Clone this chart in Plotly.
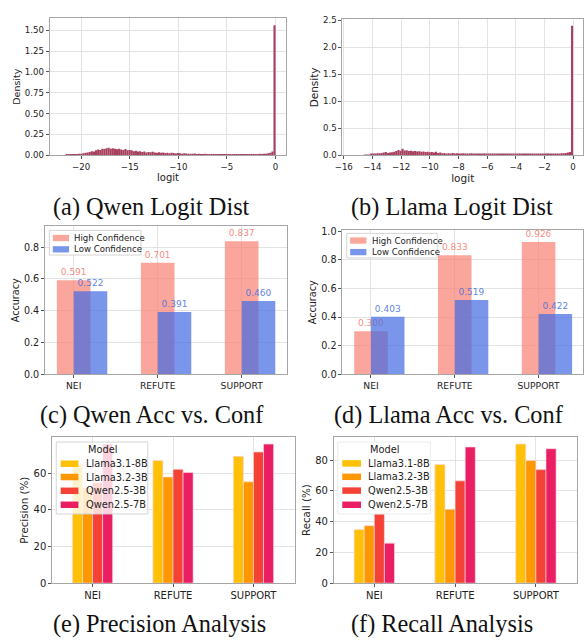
import plotly.graph_objects as go

# ---------------- data ----------------
# (a) Qwen logit histogram: 100 bins from -21.6 to 0
qwen_bin_start = -21.6
qwen_bin_width = 0.216
qwen_density = [
    0.005, 0.008, 0.005, 0.010, 0.012,
    0.015, 0.020, 0.018, 0.025, 0.030,
    0.035, 0.040, 0.050, 0.045, 0.060,
    0.070, 0.065, 0.080, 0.075, 0.085,
    0.090, 0.080, 0.085, 0.078, 0.072,
    0.080, 0.070, 0.065, 0.075, 0.060,
    0.065, 0.060, 0.050, 0.055, 0.045,
    0.050, 0.040, 0.045, 0.035, 0.040,
    0.038, 0.042, 0.035, 0.030, 0.036,
    0.032, 0.035, 0.028, 0.030, 0.025,
    0.030, 0.028, 0.022, 0.027, 0.025,
    0.020, 0.025, 0.022, 0.018, 0.020,
    0.018, 0.022, 0.015, 0.020, 0.017,
    0.015, 0.020, 0.014, 0.016, 0.013,
    0.015, 0.012, 0.014, 0.016, 0.012,
    0.013, 0.010, 0.015, 0.012, 0.011,
    0.012, 0.014, 0.010, 0.013, 0.012,
    0.011, 0.013, 0.012, 0.014, 0.012,
    0.015, 0.016, 0.018, 0.017, 0.020,
    0.020, 0.025, 0.030, 0.045, 1.560,
]

# (b) Llama logit histogram: 100 bins from -14.6 to 0
llama_bin_start = -14.6
llama_bin_width = 0.146
llama_density = [
    0.003, 0.005, 0.010, 0.020, 0.030,
    0.035, 0.040, 0.038, 0.045, 0.050,
    0.060, 0.045, 0.050, 0.055, 0.065,
    0.080, 0.100, 0.085, 0.120, 0.090,
    0.095, 0.080, 0.085, 0.075, 0.080,
    0.070, 0.075, 0.065, 0.070, 0.060,
    0.065, 0.055, 0.060, 0.050, 0.065,
    0.045, 0.050, 0.040, 0.045, 0.035,
    0.040, 0.035, 0.045, 0.030, 0.040,
    0.035, 0.030, 0.040, 0.030, 0.035,
    0.030, 0.040, 0.028, 0.035, 0.030,
    0.025, 0.030, 0.035, 0.025, 0.030,
    0.028, 0.025, 0.032, 0.025, 0.030,
    0.025, 0.030, 0.022, 0.028, 0.025,
    0.030, 0.022, 0.025, 0.020, 0.025,
    0.022, 0.020, 0.025, 0.018, 0.022,
    0.020, 0.018, 0.022, 0.020, 0.018,
    0.025, 0.020, 0.018, 0.022, 0.020,
    0.025, 0.030, 0.028, 0.035, 0.040,
    0.040, 0.045, 0.050, 0.060, 2.400,
]

labels = ["NEI", "REFUTE", "SUPPORT"]

qwen_high = [0.591, 0.701, 0.837]
qwen_low = [0.522, 0.391, 0.460]
llama_high = [0.300, 0.833, 0.926]
llama_low = [0.403, 0.519, 0.422]
conf_names = ["High Confidence", "Low Confidence"]

models = ["Llama3.1-8B", "Llama3.2-3B", "Qwen2.5-3B", "Qwen2.5-7B"]
model_colors = ["#FFC107", "#FF9800", "#F44336", "#E91E63"]
precision = {
    "Llama3.1-8B": [65.0, 67.0, 69.3],
    "Llama3.2-3B": [52.0, 58.0, 55.4],
    "Qwen2.5-3B": [55.0, 62.2, 71.7],
    "Qwen2.5-7B": [76.0, 60.5, 76.0],
}
recall = {
    "Llama3.1-8B": [34.9, 77.2, 90.4],
    "Llama3.2-3B": [37.3, 48.0, 79.8],
    "Qwen2.5-3B": [45.0, 66.5, 73.8],
    "Qwen2.5-7B": [26.0, 88.5, 87.4],
}

# ---------------- figure ----------------
W, H = 584, 641
FONT = "DejaVu Sans"
HIST_COLOR = "#A93F5F"
HIGH_COLOR = "rgba(250,128,114,0.7)"
LOW_COLOR = "rgba(65,105,225,0.7)"

fig = go.Figure()
cat_pos = list(range(len(labels)))

# histograms
q_x = [qwen_bin_start + qwen_bin_width * (i + 0.5) for i in range(len(qwen_density))]
fig.add_trace(go.Bar(x=q_x, y=qwen_density, width=qwen_bin_width,
                     marker=dict(color=HIST_COLOR, line=dict(width=0)),
                     xaxis="x", yaxis="y", showlegend=False))
l_x = [llama_bin_start + llama_bin_width * (i + 0.5) for i in range(len(llama_density))]
fig.add_trace(go.Bar(x=l_x, y=llama_density, width=llama_bin_width,
                     marker=dict(color=HIST_COLOR, line=dict(width=0)),
                     xaxis="x2", yaxis="y2", showlegend=False))


def acc_panel(high, low, xa, ya):
    fig.add_trace(go.Bar(x=cat_pos, y=high, width=0.4, offset=-0.2, name=conf_names[0],
                         marker=dict(color=HIGH_COLOR, line=dict(width=0)),
                         text=[f"{v:.3f}" for v in high], textposition="outside", cliponaxis=False,
                         constraintext="none",
                         textfont=dict(family=FONT, size=9, color="rgba(245,130,118,0.95)"),
                         xaxis=xa, yaxis=ya, showlegend=False))
    fig.add_trace(go.Bar(x=cat_pos, y=low, width=0.4, offset=0.0, name=conf_names[1],
                         marker=dict(color=LOW_COLOR, line=dict(width=0)),
                         text=[f"{v:.3f}" for v in low], textposition="outside", cliponaxis=False,
                         constraintext="none",
                         textfont=dict(family=FONT, size=9, color="rgba(65,105,225,0.85)"),
                         xaxis=xa, yaxis=ya, showlegend=False))


acc_panel(qwen_high, qwen_low, "x3", "y3")
acc_panel(llama_high, llama_low, "x4", "y4")


def model_panel(data, xa, ya):
    for k, m in enumerate(models):
        fig.add_trace(go.Bar(x=cat_pos, y=data[m], width=0.125, offset=-0.25 + 0.125 * k, name=m,
                             marker=dict(color=model_colors[k],
                                         line=dict(color="rgba(255,215,225,0.8)", width=0.8)),
                             xaxis=xa, yaxis=ya, showlegend=False))


model_panel(precision, "x5", "y5")
model_panel(recall, "x6", "y6")


def px_x(a, b):
    return [a / W, b / W]


def px_y(top, bottom):
    return [1 - bottom / H, 1 - top / H]


axis_common = dict(showline=True, mirror=True, linecolor="#a6a6a6", linewidth=1,
                   showgrid=True, gridcolor="#e3e3e3", gridwidth=1, zeroline=False,
                   ticks="outside", ticklen=3, tickcolor="#555",
                   tickfont=dict(family=FONT, size=8.6, color="#222"))


def title(t, s):
    return dict(text=t, font=dict(family=FONT, size=s, color="#222"), standoff=2)


layout = dict(
    width=W, height=H, margin=dict(l=0, r=0, t=0, b=0),
    paper_bgcolor="white", plot_bgcolor="white", barmode="overlay",
    font=dict(family=FONT, color="#222"), showlegend=False,
)

layout["xaxis"] = dict(axis_common, domain=px_x(42.3, 282.7), range=[-23.24, 1.11], anchor="y",
                       tickvals=[-20, -15, -10, -5, 0], title=title("logit", 10))
layout["yaxis"] = dict(axis_common, domain=px_y(13.3, 152.7), range=[0, 1.646], anchor="x",
                       tickvals=[0, 0.25, 0.5, 0.75, 1.0, 1.25, 1.5], tickformat=".2f",
                       title=title("Density", 9.5))
layout["xaxis2"] = dict(axis_common, domain=px_x(339.7, 584), range=[-16.09, 0.69], anchor="y2",
                        tickvals=[-16, -14, -12, -10, -8, -6, -4, -2, 0], title=title("logit", 10.5))
layout["yaxis2"] = dict(axis_common, domain=px_y(14.7, 152.7), range=[0, 2.518], anchor="x2",
                        tickvals=[0, 0.5, 1.0, 1.5, 2.0, 2.5], tickformat=".1f",
                        title=title("Density", 10.5))

cat_axis = dict(axis_common, tickvals=cat_pos, ticktext=labels,
                tickfont=dict(family=FONT, size=9.2, color="#222"))
num_tick = dict(family=FONT, size=9.6, color="#222")

layout["xaxis3"] = dict(cat_axis, domain=px_x(37.7, 283), range=[-0.34, 2.535], anchor="y3")
layout["yaxis3"] = dict(axis_common, domain=px_y(225, 375), range=[0, 0.93], anchor="x3",
                        tickvals=[0, 0.2, 0.4, 0.6, 0.8], tickformat=".1f", tickfont=num_tick,
                        title=title("Accuracy", 9.6))
layout["xaxis4"] = dict(cat_axis, domain=px_x(339.7, 584), range=[-0.34, 2.53], anchor="y4")
layout["yaxis4"] = dict(axis_common, domain=px_y(229, 375), range=[0, 1.007], anchor="x4",
                        tickvals=[0, 0.2, 0.4, 0.6, 0.8, 1.0], tickformat=".1f", tickfont=num_tick,
                        title=title("Accuracy", 9.6))

cat_axis2 = dict(axis_common, tickvals=cat_pos, ticktext=labels,
                 tickfont=dict(family=FONT, size=10, color="#222"))
layout["xaxis5"] = dict(cat_axis2, domain=px_x(45, 291), range=[-0.5, 2.51], anchor="y5")
layout["yaxis5"] = dict(axis_common, domain=px_y(439, 587.3), range=[0, 79.8], anchor="x5",
                        tickvals=[0, 20, 40, 60], tickfont=dict(family=FONT, size=10, color="#222"),
                        title=title("Precision (%)", 10.3))
layout["xaxis6"] = dict(cat_axis2, domain=px_x(331, 578), range=[-0.5, 2.51], anchor="y6")
layout["yaxis6"] = dict(axis_common, domain=px_y(439, 587.3), range=[0, 94.9], anchor="x6",
                        tickvals=[0, 20, 40, 60, 80], tickfont=dict(family=FONT, size=10, color="#222"),
                        title=title("Recall (%)", 10.3))

# ---------------- hand-drawn legends (pixel layout) ----------------
shapes = []
annotations = []


def rect(x0, y0, x1, y1, fill, line="rgba(0,0,0,0)", lw=0):
    shapes.append(dict(type="rect", xref="paper", yref="paper", layer="above",
                       x0=x0 / W, x1=x1 / W, y0=1 - y1 / H, y1=1 - y0 / H,
                       fillcolor=fill, line=dict(color=line, width=lw)))


def text(t, x, y, size, xanchor="left", color="#222", family=FONT):
    annotations.append(dict(text=t, x=x / W, y=1 - y / H, xref="paper", yref="paper",
                            xanchor=xanchor, yanchor="middle", showarrow=False,
                            font=dict(family=family, size=size, color=color)))


# (c) legend
rect(42, 229, 135, 254, "rgba(255,255,255,0.8)", "#d4d4d4", 1)
for name, col, yc in zip(conf_names, [HIGH_COLOR, LOW_COLOR], [236.7, 248.2]):
    rect(45.5, yc - 3.2, 62, yc + 3.2, col)
    text(name, 65.5, yc, 8.6)

# (d) legend
rect(344, 232, 436, 257, "rgba(255,255,255,0.8)", "#d4d4d4", 1)
for name, col, yc in zip(conf_names, [HIGH_COLOR, LOW_COLOR], [239.3, 251]):
    rect(347.5, yc - 3.2, 364, yc + 3.2, col)
    text(name, 367.5, yc, 8.6)

# (e) legend
rect(49, 444, 142, 517, "rgba(255,255,255,0.8)", "#d4d4d4", 1)
text("Model", 95.8, 451.7, 9.8, xanchor="center")
for name, col, yc in zip(models, model_colors, [466, 479.5, 493.5, 507.7]):
    rect(53.5, yc - 3.3, 71.5, yc + 3.3, col)
    text(name, 77.5, yc, 9.8)

# (f) legend
rect(335, 444, 429, 517, "rgba(255,255,255,0.8)", "#ececec", 1)
text("Model", 382, 451.7, 9.8, xanchor="center")
for name, col, yc in zip(models, model_colors, [465.7, 479.3, 493.3, 507.7]):
    rect(339.5, yc - 3.3, 358.5, yc + 3.3, col)
    text(name, 363.5, yc, 9.8)

captions = [
    ("(a) Qwen Logit Dist", 146, 205),
    ("(b) Llama Logit Dist", 451, 205),
    ("(c) Qwen Acc vs. Conf", 146.5, 417),
    ("(d) Llama Acc vs. Conf", 448, 417),
    ("(e) Precision Analysis", 153.5, 629),
    ("(f) Recall Analysis", 440.5, 629),
]
for t, cx, cy in captions:
    text(t, cx, cy, 24.3, xanchor="center", color="#111", family="Liberation Serif")

layout["shapes"] = shapes
layout["annotations"] = annotations

fig.update_layout(**layout)
fig.write_html("out.html", config={"displayModeBar": False},
               post_script="document.body.style.margin='0px';")
